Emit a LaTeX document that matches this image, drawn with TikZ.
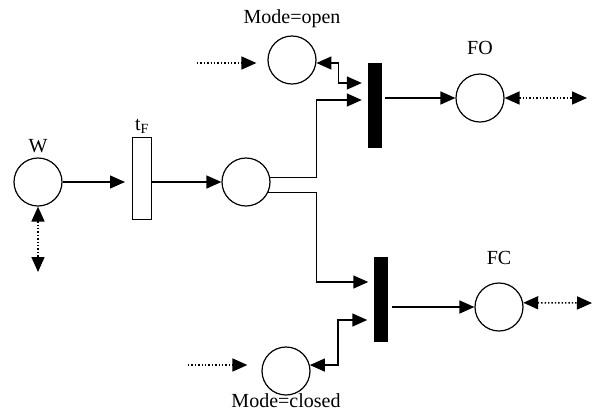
\documentclass[tikz,border=0pt]{standalone}
\usepackage{fontspec}
\setmainfont{Liberation Serif}
\usepackage{tikz}
\usetikzlibrary{positioning,arrows.meta,calc}
\tikzset{
  place/.style={draw,circle,line width=1.2pt,minimum size=48pt,inner sep=0pt},
  trans/.style={draw,rectangle,line width=1pt,minimum width=19pt,minimum height=82pt,inner sep=0pt},
  bar/.style={draw,fill=black,rectangle,minimum width=13pt,minimum height=84pt,inner sep=0pt},
  lbl/.style={font=\fontsize{20}{22}\selectfont,inner sep=0pt},
  arr/.style={-{Triangle[length=15pt,width=13pt]},line width=1.4pt},
  arrb/.style={{Triangle[length=15pt,width=13pt]}-{Triangle[length=15pt,width=13pt]},line width=1.4pt},
  dot/.style={arr,dotted,line width=1.6pt},
  dotb/.style={arrb,dotted,line width=1.6pt},
}
\begin{document}
\begin{tikzpicture}[x=1pt,y=-1pt]
\useasboundingbox (0,0) rectangle (598,416);
\node[place] (W) at (38,182) {};
\node[lbl] (wl) at (38,146) {W};
\node[trans] (tF) at (142,178) {};
\node[lbl] (tl) at (142,126) {t\textsubscript{F}};
\node[place] (mid) at (246,182) {};
\node[bar] (obar) at (374.5,105) {};
\node[bar] (cbar) at (381,299) {};
\node[place] (mopen) at (292,60) {};
\node[lbl] (ol) at (292,19) {Mode=open};
\node[place] (mclosed) at (286,371) {};
\node[lbl] (cl) at (286,401) {Mode=closed};
\node[place] (FO) at (480,98) {};
\node[lbl] (fol) at (480,48) {FO};
\node[place] (FC) at (499,307) {};
\node[lbl] (fcl) at (499,258) {FC};
\coordinate (wdot) at (38,272);
\coordinate (odot) at (197,63);
\coordinate (cdot) at (188,365);
\coordinate (fodot) at (587,98);
\coordinate (fcdot) at (592,303);
\draw[dotb] (W) -- (wdot);
\draw[arr,shorten >=7pt] (W) -- (tF.west |- W);
\draw[arr] (tF.east |- mid.west) -- (mid.west);
\draw[arr,shorten >=6pt] (mid.10) -- ++(46,0) |- ([yshift=5pt]obar.west);
\draw[arr,shorten >=6pt] (mid.-25) -- ++(48,0) |- ([yshift=17pt]cbar.west);
\draw[dot,shorten >=11pt] (odot) -- (mopen.west |- odot);
\draw[arrb,shorten >=6pt] (mopen.-7) -- ++(22,0) |- ([yshift=22pt]obar.west);
\draw[dot,shorten >=14pt] (cdot) -- (mclosed.west |- cdot);
\draw[arrb,shorten >=7pt] (mclosed.14) -- ++(28,0) |- ([yshift=-21pt]cbar.west);
\draw[arr,shorten <=4pt] (obar.east |- FO.west) -- (FO.west);
\draw[arr,shorten <=4pt] (cbar.east |- FC.west) -- (FC.west);
\draw[dotb] (FO.east) -- (fodot);
\draw[dotb] (FC.10) -- (fcdot);
\end{tikzpicture}
\end{document}
